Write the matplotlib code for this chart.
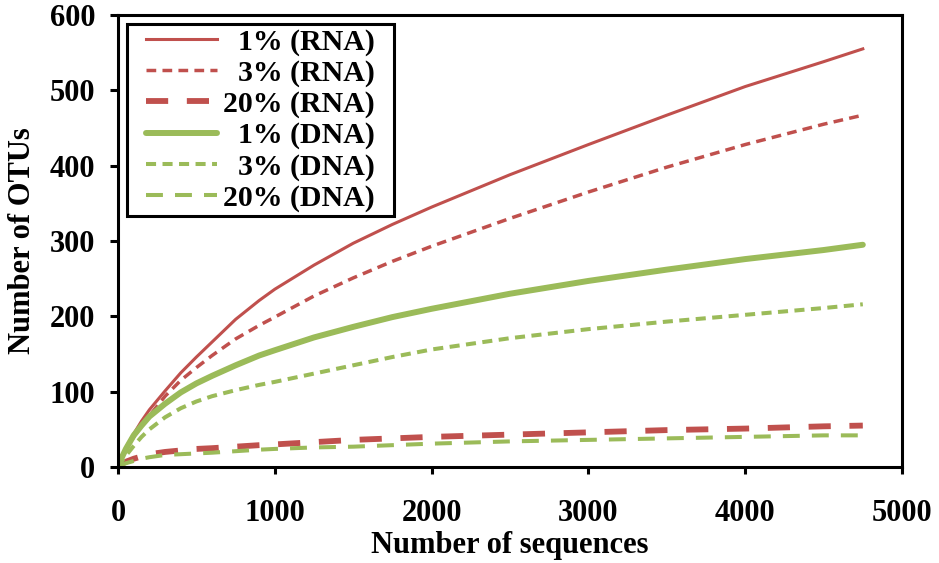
import numpy as np
import matplotlib
matplotlib.rcParams["font.family"] = ["Liberation Serif", "DejaVu Serif"]
matplotlib.rcParams["font.weight"] = "bold"
matplotlib.rcParams["axes.labelweight"] = "bold"
matplotlib.rcParams["font.size"] = 22
import matplotlib.pyplot as plt
from matplotlib.legend_handler import HandlerLine2D
from matplotlib.lines import Line2D

# rarefaction curves, OTUs observed vs. sequences sampled
seqs = [0, 25, 50, 100, 150, 200, 300, 400, 500, 600, 750, 900, 1000,
        1250, 1500, 1750, 2000, 2500, 3000, 3500, 4000, 4500, 4750]

rna_1 = [0, 14, 26, 44, 61, 76, 101, 125, 146, 166, 196, 221, 236,
         268, 297, 322, 345, 388, 428, 467, 505, 538, 555]
rna_3 = [0, 12, 22, 40, 55, 68, 94, 115, 132, 148, 170, 188, 199,
         227, 251, 273, 293, 330, 365, 398, 428, 455, 467]
rna_20 = [0, 4, 7, 11, 14, 17, 20, 22, 24, 25, 27, 29, 30,
          33, 36, 38, 40, 43, 46, 49, 51, 54, 55]
dna_1 = [0, 13, 24, 42, 55, 67, 84, 99, 111, 121, 135, 148, 155,
         172, 186, 199, 210, 230, 247, 262, 276, 288, 295]
dna_3 = [0, 8, 15, 28, 40, 50, 66, 78, 87, 94, 102, 109, 113,
         124, 135, 146, 156, 171, 183, 193, 202, 211, 216]
dna_20 = [0, 3, 5, 8, 11, 13, 16, 17, 18, 19, 21, 23, 24,
          26, 27, 29, 31, 34, 36, 38, 40, 42, 42]

red = "#C0504D"
green = "#9BBB59"
fs = "\u2007"  # figure space keeps the legend labels right-aligned
tail = "  "

fig = plt.figure(figsize=(9.39, 5.63), dpi=100)
ax = fig.add_axes([0.1257, 0.1705, 0.8349, 0.8029])

ax.plot(seqs, rna_1, color=red, lw=2.2, label=fs + "1% (RNA)" + tail)
ax.plot(seqs, rna_3, color=red, lw=2.5, dashes=(2.8, 1.8), label=fs + "3% (RNA)" + tail)
ax.plot(seqs, rna_20, color=red, lw=4.2, dashes=(3.8, 3.2), label="20% (RNA)" + tail)
ax.plot(seqs, dna_1, color=green, lw=4.3, solid_capstyle="round", label=fs + "1% (DNA)" + tail)
ax.plot(seqs, dna_3, color=green, lw=2.9, dashes=(2.5, 1.6), label=fs + "3% (DNA)" + tail)
ax.plot(seqs, dna_20, color=green, lw=2.9, dashes=(4.2, 3.0), label="20% (DNA)" + tail)

ax.set_xlim(0, 5000)
ax.set_ylim(0, 600)
ax.set_xticks(np.arange(0, 5001, 1000))
ax.set_yticks(np.arange(0, 601, 100))
ax.set_xlabel("Number of sequences", labelpad=2)
ax.set_ylabel("Number of OTUs", labelpad=9)

for s in ax.spines.values():
    s.set_linewidth(2.2)
ax.tick_params(axis="x", direction="out", length=5, width=2.2, pad=18)
ax.tick_params(axis="y", direction="out", length=5.5, width=2.2, pad=11)

leg = ax.legend(loc="upper left", fontsize=21.5, handlelength=2.86,
                handletextpad=0.2, labelspacing=0.13, borderpad=0.15,
                borderaxespad=0.3, fancybox=False, framealpha=1,
                edgecolor="black",
                handler_map={Line2D: HandlerLine2D(xpad=0.485)})
leg.get_frame().set_linewidth(2.2)

plt.savefig("out.png", dpi=100)
